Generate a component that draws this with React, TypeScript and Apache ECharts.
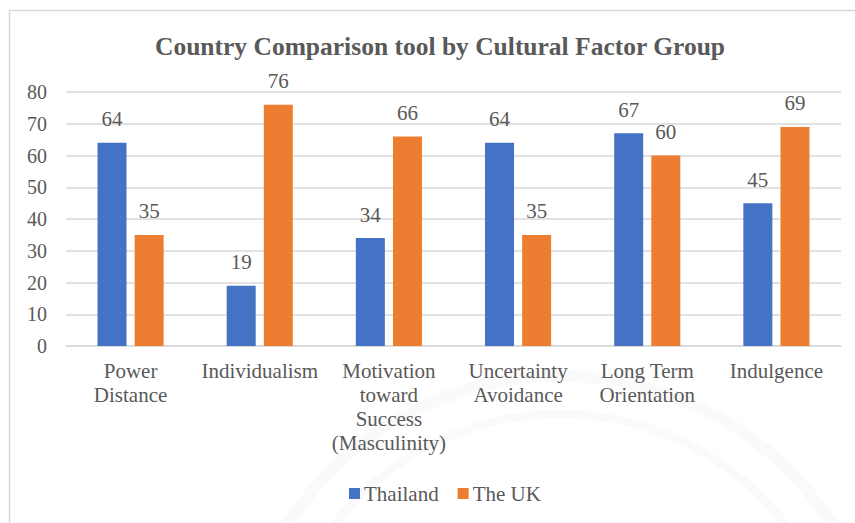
import React, { useEffect, useRef } from "react";
import * as echarts from "echarts";

const categories = [
  "Power\nDistance",
  "Individualism",
  "Motivation\ntoward\nSuccess\n(Masculinity)",
  "Uncertainty\nAvoidance",
  "Long Term\nOrientation",
  "Indulgence",
];
const thailand = [64, 19, 34, 64, 67, 45];
const theUK = [35, 76, 66, 35, 60, 69];
const seriesNames = ["Thailand", "The UK"];
const yTicks = { min: 0, max: 80, interval: 10 };
const titleText = "Country Comparison tool by Cultural Factor Group";

const FONT = "Liberation Serif";
const TEXT = "#595959";

export default function App() {
  const ref = useRef<HTMLDivElement>(null);
  useEffect(() => {
    if (!ref.current) return;
    const chart = echarts.init(ref.current, null, { renderer: "svg" });
    const label = {
      show: true,
      position: "top" as const,
      distance: 13,
      color: TEXT,
      fontFamily: FONT,
      fontSize: 21,
    };
    chart.setOption({
      animation: false,
      backgroundColor: "#ffffff",
      textStyle: { fontFamily: FONT },
      title: {
        text: titleText,
        left: 150,
        top: 28,
        textStyle: { fontFamily: FONT, fontSize: 25.5, fontWeight: "bold", color: TEXT },
      },
      legend: {
        bottom: 14,
        left: 344,
        itemWidth: 11,
        itemHeight: 11,
        itemGap: 19,
        icon: "rect",
        textStyle: { fontFamily: FONT, fontSize: 21, color: TEXT, padding: [0, 0, 0, -1] },
        data: seriesNames,
      },
      grid: { left: 66, right: 14, top: 92, bottom: 177, containLabel: false },
      xAxis: {
        type: "category",
        data: categories,
        axisTick: { show: false },
        axisLine: { lineStyle: { color: "#D9D9D9", width: 1.5 } },
        axisLabel: {
          interval: 0,
          margin: 13,
          color: TEXT,
          fontFamily: FONT,
          fontSize: 21,
          lineHeight: 24,
        },
      },
      yAxis: {
        type: "value",
        min: yTicks.min,
        max: yTicks.max,
        interval: yTicks.interval,
        axisLine: { show: false },
        axisTick: { show: false },
        splitLine: { lineStyle: { color: "#D9D9D9", width: 1.5 } },
        axisLabel: { color: TEXT, fontFamily: FONT, fontSize: 20, margin: 19 },
      },
      graphic: [
        {
          type: "rect",
          shape: { x: 9.5, y: 10.5, width: 900, height: 600 },
          style: { fill: "none", stroke: "#D9D9D9", lineWidth: 1.5 },
          silent: true,
          z: -10,
        },
        {
          type: "ring",
          shape: { cx: 560, cy: 700, r: 330, r0: 318 },
          style: { fill: "#FAFAFA" },
          silent: true,
          z: -10,
        },
        {
          type: "ring",
          shape: { cx: 560, cy: 700, r: 290, r0: 282 },
          style: { fill: "#FAFAFA" },
          silent: true,
          z: -10,
        },
      ],
      series: [
        {
          name: seriesNames[0],
          type: "bar",
          data: thailand,
          barWidth: 29,
          barGap: "28%",
          itemStyle: { color: "#4472C4" },
          label,
        },
        {
          name: seriesNames[1],
          type: "bar",
          data: theUK,
          barWidth: 29,
          itemStyle: { color: "#ED7D31" },
          label,
        },
      ],
    });
    return () => chart.dispose();
  }, []);
  return (
    <div
      ref={ref}
      style={{ position: "fixed", left: 0, top: 0, width: 855, height: 523 }}
    />
  );
}
